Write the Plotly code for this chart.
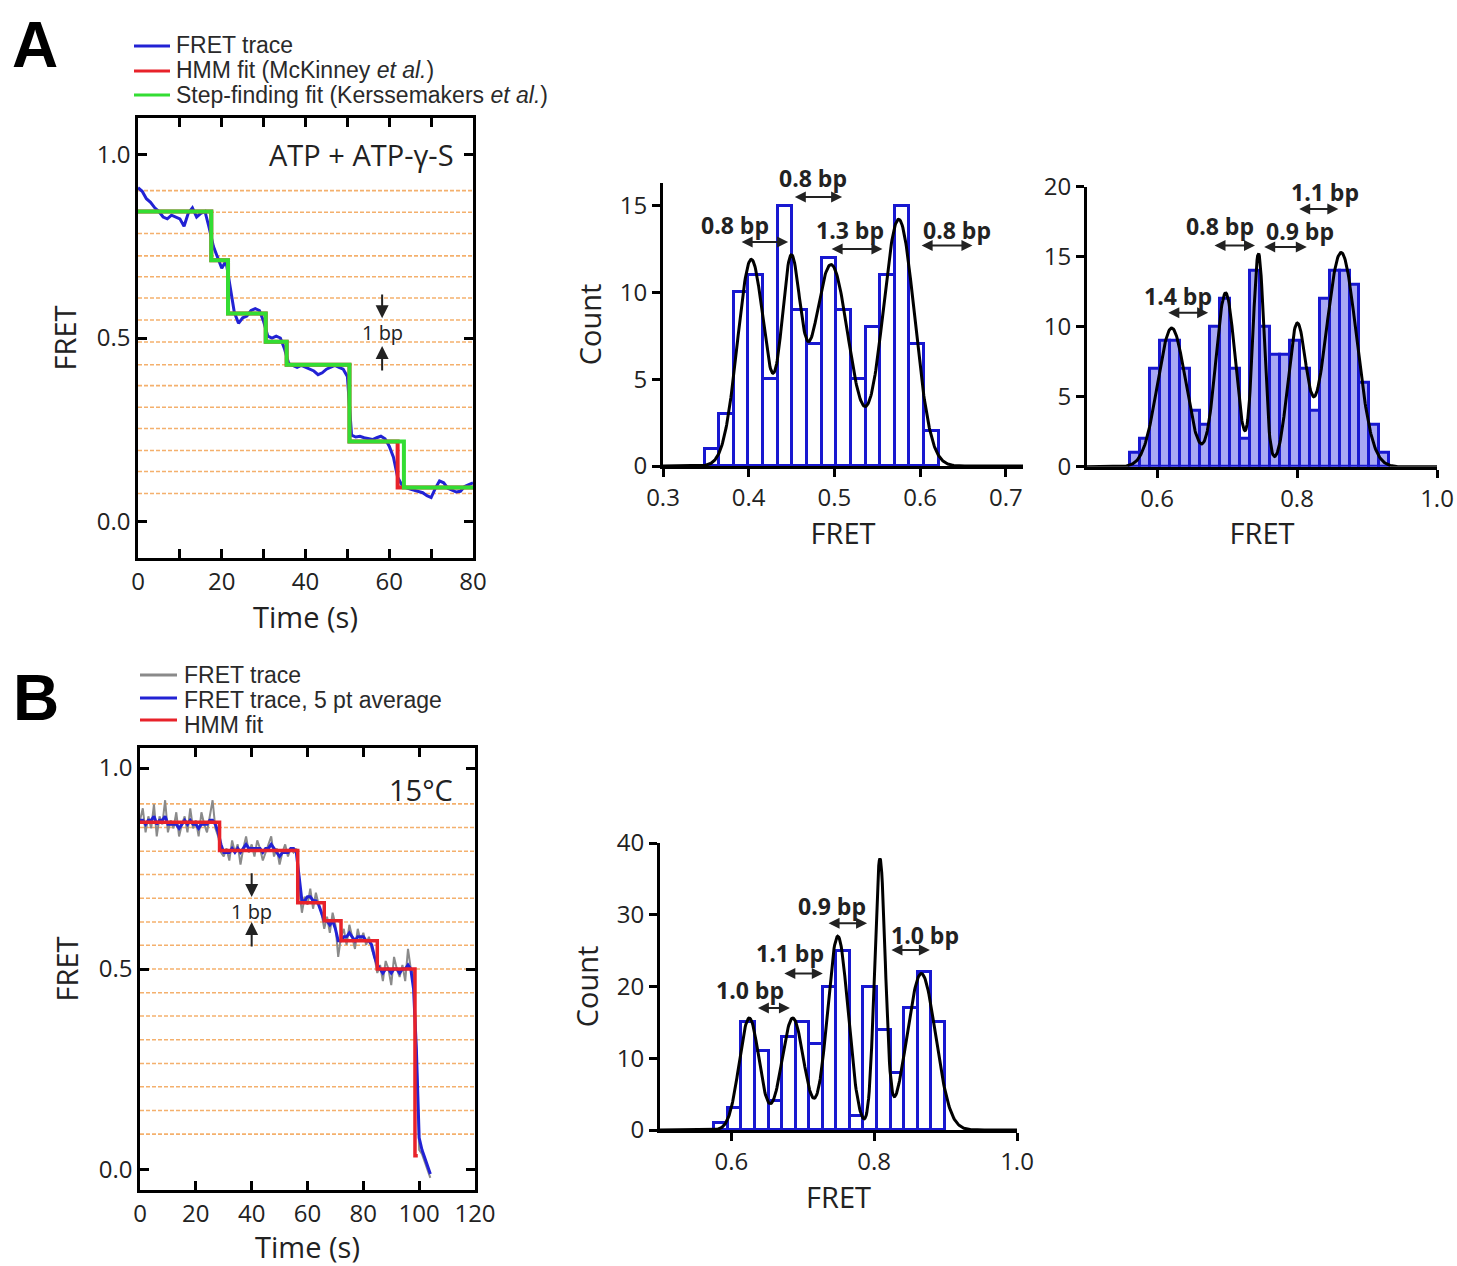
import numpy as np
import plotly.graph_objects as go

W, H = 1457, 1266
def px(x): return x / W
def py(y): return 1 - y / H

# ---------------- DATA ----------------
# Panel A trace (1 s sampling)
tA = list(range(0, 81))
fretA = [0.91, 0.90, 0.88, 0.87, 0.855, 0.845, 0.83, 0.825, 0.835, 0.83,
         0.825, 0.805, 0.84, 0.855, 0.83, 0.84, 0.845, 0.80, 0.75, 0.72,
         0.69, 0.71, 0.64, 0.57, 0.54, 0.555, 0.56, 0.575, 0.58, 0.575,
         0.545, 0.505, 0.50, 0.505, 0.50, 0.47, 0.43, 0.425, 0.42, 0.425,
         0.42, 0.415, 0.41, 0.40, 0.405, 0.415, 0.42, 0.425, 0.42, 0.415,
         0.395, 0.235, 0.23, 0.232, 0.228, 0.226, 0.223, 0.228, 0.232, 0.225,
         0.205, 0.175, 0.12, 0.10, 0.092, 0.088, 0.085, 0.08, 0.078, 0.07,
         0.065, 0.09, 0.11, 0.105, 0.09, 0.085, 0.08, 0.082, 0.095, 0.10, 0.105]
hmmA_t = [0, 17.5, 21.5, 30.5, 35.5, 50.5, 62, 80]
hmmA_lv = [0.845, 0.712, 0.567, 0.49, 0.427, 0.218, 0.092, 0.092]
stepA_t = [0, 17.5, 21.5, 30.5, 35.5, 50.5, 63.5, 80]
stepA_lv = [0.845, 0.712, 0.567, 0.49, 0.427, 0.218, 0.092, 0.092]
guideA = [0.902, 0.843, 0.785, 0.724, 0.667, 0.609, 0.549, 0.489, 0.427,
          0.37, 0.311, 0.253, 0.193, 0.136, 0.076]

# Panel A histogram 1
hA1_start, hA1_w = 0.3485, 0.01707
hA1_counts = [1, 3, 10, 11, 5, 15, 9, 7, 12, 9, 5, 8, 11, 15, 7, 2]
gA1_mu = [0.403, 0.449, 0.496, 0.575]
gA1_amp = [11.9, 11.0, 11.6, 14.2]
gA1_sig = [0.016, 0.011, 0.021, 0.0185]

# Panel A histogram 2
hA2_start, hA2_w = 0.5615, 0.01425
hA2_counts = [1, 2, 7, 9, 9, 7, 4, 3, 10, 12, 7, 2, 14, 10, 8, 8, 9, 7, 4,
              12, 14, 14, 13, 6, 3, 1]
gA2_mu = [0.621, 0.698, 0.745, 0.800, 0.863]
gA2_amp = [9.9, 12.4, 15.2, 10.0, 15.3]
gA2_sig = [0.020, 0.014, 0.008, 0.013, 0.022]

# Panel B trace
tB = list(range(0, 105))
rawB = [0.87, 0.90, 0.84, 0.88, 0.85, 0.91, 0.83, 0.88, 0.86, 0.92,
        0.84, 0.87, 0.85, 0.89, 0.83, 0.86, 0.88, 0.84, 0.90, 0.85,
        0.87, 0.83, 0.89, 0.86, 0.84, 0.88, 0.92, 0.85, 0.83, 0.79,
        0.78, 0.80, 0.77, 0.82, 0.79, 0.81, 0.76, 0.80, 0.83, 0.79,
        0.81, 0.78, 0.82, 0.80, 0.77, 0.79, 0.81, 0.83, 0.78, 0.80,
        0.76, 0.79, 0.81, 0.78, 0.80, 0.79, 0.80, 0.70, 0.64, 0.68,
        0.66, 0.70, 0.65, 0.69, 0.66, 0.64, 0.60, 0.63, 0.59, 0.64,
        0.61, 0.53, 0.58, 0.60, 0.56, 0.61, 0.58, 0.55, 0.60, 0.57,
        0.59, 0.56, 0.58, 0.55, 0.53, 0.49, 0.51, 0.47, 0.52, 0.50,
        0.46, 0.53, 0.50, 0.48, 0.51, 0.47, 0.55, 0.50, 0.49, 0.30,
        0.05, 0.04, 0.02, 0.00, -0.02]
avgB = [0.87, 0.87, 0.86, 0.87, 0.87, 0.88, 0.86, 0.87, 0.87, 0.88,
        0.86, 0.86, 0.86, 0.86, 0.85, 0.86, 0.87, 0.86, 0.87, 0.86,
        0.86, 0.85, 0.86, 0.86, 0.86, 0.87, 0.87, 0.86, 0.84, 0.81,
        0.79, 0.79, 0.79, 0.80, 0.79, 0.80, 0.79, 0.80, 0.81, 0.80,
        0.80, 0.80, 0.80, 0.80, 0.79, 0.80, 0.80, 0.81, 0.80, 0.79,
        0.78, 0.79, 0.79, 0.79, 0.80, 0.80, 0.79, 0.73, 0.67, 0.67,
        0.68, 0.68, 0.67, 0.67, 0.66, 0.64, 0.62, 0.62, 0.61, 0.62,
        0.60, 0.57, 0.57, 0.58, 0.58, 0.59, 0.58, 0.57, 0.58, 0.58,
        0.58, 0.57, 0.57, 0.56, 0.53, 0.51, 0.50, 0.49, 0.50, 0.50,
        0.49, 0.50, 0.50, 0.49, 0.50, 0.50, 0.51, 0.50, 0.45, 0.30,
        0.08, 0.05, 0.03, 0.01, -0.01]
hmmB_t = [0, 28.5, 56.5, 66, 72, 85, 98.5, 99.5]
hmmB_lv = [0.865, 0.795, 0.665, 0.62, 0.57, 0.5, 0.035, 0.035]
guideB = [0.089, 0.148, 0.207, 0.265, 0.324, 0.383, 0.441, 0.5, 0.559,
          0.617, 0.676, 0.735, 0.793, 0.852, 0.911]

# Panel B histogram
hB_start, hB_w = 0.576, 0.019
hB_counts = [1, 3, 15, 11, 4, 13, 15, 12, 20, 25, 2, 20, 14, 8, 17, 22, 15]
gB_mu = [0.625, 0.686, 0.749, 0.808, 0.866]
gB_amp = [15.6, 15.6, 27.0, 37.5, 21.8]
gB_sig = [0.014, 0.0155, 0.0145, 0.0075, 0.020]

# bp annotations: (label, text_x, text_y, arrow_x0, arrow_x1, arrow_y)
bpA1 = [("0.8 bp", 0.384, 13.9, 0.390, 0.446, 12.9),
        ("0.8 bp", 0.475, 16.6, 0.452, 0.509, 15.5),
        ("1.3 bp", 0.518, 13.6, 0.495, 0.556, 12.5),
        ("0.8 bp", 0.643, 13.6, 0.600, 0.661, 12.7)]
bpA2 = [("1.4 bp", 0.630, 12.2, 0.614, 0.673, 11.0),
        ("0.8 bp", 0.690, 17.2, 0.680, 0.740, 15.8),
        ("0.9 bp", 0.804, 16.8, 0.751, 0.814, 15.7),
        ("1.1 bp", 0.840, 19.6, 0.801, 0.859, 18.4)]
bpB = [("1.0 bp", 0.626, 19.5, 0.635, 0.682, 17.0),
       ("1.1 bp", 0.682, 24.7, 0.672, 0.728, 21.8),
       ("0.9 bp", 0.741, 31.2, 0.734, 0.790, 28.8),
       ("1.0 bp", 0.871, 27.2, 0.822, 0.878, 25.1)]

# legend entries
legA_names = ["FRET trace", "HMM fit (McKinney <i>et al.</i>)",
              "Step-finding fit (Kerssemakers <i>et al.</i>)"]
legB_names = ["FRET trace", "FRET trace, 5 pt average", "HMM fit"]

# ---------------- STYLE ----------------
FONT = "Open Sans"
BLUE = "#2222d4"
RED = "#e8222a"
GREEN = "#33dd33"
GRAY = "#8a8a8a"
BARBLUE = "#1818d0"
TICKF = dict(family=FONT, size=24, color="#222")
TITF = dict(family=FONT, size=29, color="#222")

fig = go.Figure()

# ---- Panel A trace
fig.add_trace(go.Scatter(x=tA, y=fretA, mode="lines", name=legA_names[0],
                         line=dict(color=BLUE, width=3), xaxis="x", yaxis="y"))
fig.add_trace(go.Scatter(x=hmmA_t, y=hmmA_lv, mode="lines", line_shape="hv",
                         name=legA_names[1], line=dict(color=RED, width=4),
                         xaxis="x", yaxis="y"))
fig.add_trace(go.Scatter(x=stepA_t, y=stepA_lv, mode="lines", line_shape="hv",
                         name=legA_names[2], line=dict(color=GREEN, width=4),
                         xaxis="x", yaxis="y"))

# ---- Panel B trace
fig.add_trace(go.Scatter(x=tB, y=rawB, mode="lines", name=legB_names[0],
                         line=dict(color=GRAY, width=2), xaxis="x2", yaxis="y2"))
fig.add_trace(go.Scatter(x=tB, y=avgB, mode="lines", name=legB_names[1],
                         line=dict(color=BLUE, width=3), xaxis="x2", yaxis="y2"))
fig.add_trace(go.Scatter(x=hmmB_t, y=hmmB_lv, mode="lines", line_shape="hv",
                         name=legB_names[2], line=dict(color=RED, width=3.5),
                         xaxis="x2", yaxis="y2"))


def gauss_sum(xs, mu, amp, sig):
    out = np.zeros_like(xs)
    for m, a, s in zip(mu, amp, sig):
        out += a * np.exp(-0.5 * ((xs - m) / s) ** 2)
    return out


def add_hist(start, w, counts, mu, amp, sig, xr, xa, ya, fill):
    centers = [start + w * (i + 0.5) for i in range(len(counts))]
    fig.add_trace(go.Bar(x=centers, y=counts, width=w, xaxis=xa, yaxis=ya,
                         marker=dict(color=fill, line=dict(color=BARBLUE, width=3)),
                         showlegend=False))
    xs = np.linspace(xr[0], xr[1], 600)
    fig.add_trace(go.Scatter(x=xs, y=gauss_sum(xs, mu, amp, sig), mode="lines",
                             line=dict(color="black", width=3), xaxis=xa, yaxis=ya,
                             showlegend=False))


add_hist(hA1_start, hA1_w, hA1_counts, gA1_mu, gA1_amp, gA1_sig, (0.3, 0.72), "x3", "y3", "white")
add_hist(hA2_start, hA2_w, hA2_counts, gA2_mu, gA2_amp, gA2_sig, (0.5, 1.0), "x4", "y4", "#a8a8f4")
add_hist(hB_start, hB_w, hB_counts, gB_mu, gB_amp, gB_sig, (0.5, 1.0), "x5", "y5", "white")

fig.update_traces(showlegend=False)

# ---------------- AXES ----------------
def trace_x(dom, rng, dtick, minor, title):
    d = dict(domain=dom, range=rng, showline=True, linecolor="black", linewidth=2.5,
             mirror="ticks", ticks="inside", ticklen=9, tickwidth=2.5, tickcolor="black",
             dtick=dtick, tick0=0, showgrid=False, zeroline=False, tickfont=TICKF,
             automargin=False, title=dict(text=title, font=TITF, standoff=6))
    if minor:
        d["minor"] = dict(dtick=minor, ticks="inside", ticklen=9, tickwidth=2.5,
                          tickcolor="black", showgrid=False)
    return d


def trace_y(dom, rng, title):
    return dict(domain=dom, range=rng, showline=True, linecolor="black", linewidth=2.5,
                mirror="ticks", ticks="inside", ticklen=9, tickwidth=2.5, tickcolor="black",
                tickvals=[0, 0.5, 1.0], tickformat=".1f", showgrid=False, zeroline=False,
                tickfont=TICKF, automargin=False, title=dict(text=title, font=TITF, standoff=12))


def hist_x(dom, rng, tickvals, title):
    return dict(domain=dom, range=rng, showline=True, linecolor="black", linewidth=3,
                ticks="outside", ticklen=8, tickwidth=2.5, tickcolor="black",
                tickvals=tickvals, tickformat=".1f", showgrid=False, zeroline=False,
                tickfont=TICKF, automargin=False, title=dict(text=title, font=TITF, standoff=4))


def hist_y(dom, rng, tickvals, title):
    return dict(domain=dom, range=rng, showline=True, linecolor="black", linewidth=3,
                ticks="outside", ticklen=8, tickwidth=2.5, tickcolor="black",
                tickvals=tickvals, showgrid=False, zeroline=False,
                tickfont=TICKF, automargin=False, title=dict(text=title, font=TITF, standoff=10))


layout = dict(
    width=W, height=H, margin=dict(l=0, r=0, t=0, b=0, pad=0, autoexpand=False),
    paper_bgcolor="white", plot_bgcolor="rgba(0,0,0,0)",
    font=dict(family=FONT, color="#222"),
    bargap=0, showlegend=False,
    xaxis=dict(trace_x([px(138), px(473)], [0, 80], 20, 10, "Time (s)"), anchor="y"),
    yaxis=dict(trace_y([py(558), py(118)], [-0.1, 1.1], "FRET"), anchor="x"),
    xaxis2=dict(trace_x([px(140), px(475)], [0, 120], 20, None, "Time (s)"), anchor="y2"),
    yaxis2=dict(trace_y([py(1190), py(748)], [-0.05, 1.05], "FRET"), anchor="x2"),
    xaxis3=dict(hist_x([px(663), px(1023)], [0.3, 0.72], [0.3, 0.4, 0.5, 0.6, 0.7], "FRET"), anchor="y3"),
    yaxis3=dict(hist_y([py(466), py(183)], [0, 16.3], [0, 5, 10, 15], "Count"), anchor="x3"),
    xaxis4=dict(hist_x([px(1087), px(1437)], [0.5, 1.0], [0.6, 0.8, 1.0], "FRET"), anchor="y4"),
    yaxis4=dict(hist_y([py(466.7), py(186.7)], [0, 20], [0, 5, 10, 15, 20], ""), anchor="x4"),
    xaxis5=dict(hist_x([px(660), px(1017)], [0.5, 1.0], [0.6, 0.8, 1.0], "FRET"), anchor="y5"),
    yaxis5=dict(hist_y([py(1130), py(843)], [0, 40], [0, 10, 20, 30, 40], "Count"), anchor="x5"),
)
fig.update_layout(**layout)

# guide lines (1 bp levels)
shapes = []
for lv in guideA:
    shapes.append(dict(type="line", xref="x domain", yref="y", x0=0, x1=1, y0=lv, y1=lv,
                       line=dict(color="rgba(240,150,60,0.75)", width=1.6, dash="4px,2px"),
                       layer="below"))
for lv in guideB:
    shapes.append(dict(type="line", xref="x2 domain", yref="y2", x0=0, x1=1, y0=lv, y1=lv,
                       line=dict(color="rgba(240,150,60,0.75)", width=1.6, dash="4px,2px"),
                       layer="below"))

ann = []
# legend keys (drawn manually for exact placement)
LEGF = dict(family="Liberation Sans", size=23, color="#2a2a2a")
for names, cols, ys_line, ys_text, x0, x1, xt in [
        (legA_names, [BLUE, RED, GREEN], [46, 71, 95], [45, 70, 95], 134, 170, 174),
        (legB_names, [GRAY, BLUE, RED], [675, 698, 720], [675, 700, 725], 140, 177, 182)]:
    for nm, col, yl, yt in zip(names, cols, ys_line, ys_text):
        shapes.append(dict(type="line", xref="paper", yref="paper",
                           x0=px(x0), x1=px(x1), y0=py(yl), y1=py(yl),
                           line=dict(color=col, width=3)))
        ann.append(dict(text=nm, x=px(xt), y=py(yt), xref="paper", yref="paper",
                        xanchor="left", yanchor="middle", showarrow=False, font=LEGF))
fig.update_layout(shapes=shapes)

# panel letters
ann.append(dict(text="<b>A</b>", x=px(35), y=py(45), xref="paper", yref="paper",
                xanchor="center", yanchor="middle",
                showarrow=False, font=dict(family="Liberation Sans", size=64, color="black")))
ann.append(dict(text="<b>B</b>", x=px(36), y=py(698), xref="paper", yref="paper",
                xanchor="center", yanchor="middle",
                showarrow=False, font=dict(family="Liberation Sans", size=64, color="black")))
# condition labels
ann.append(dict(text="ATP + ATP-γ-S", x=76, y=1.0, xref="x", yref="y", xanchor="right",
                yanchor="middle", showarrow=False, font=dict(family=FONT, size=29, color="#222")))
ann.append(dict(text="15°C", x=113, y=0.946, xref="x2", yref="y2", xanchor="right",
                yanchor="middle", showarrow=False, font=dict(family=FONT, size=29, color="#222")))
# 1 bp markers
for xr_, yr_, tx, ty, y_top0, y_top1, y_bot0, y_bot1 in [
        ("x", "y", 58.3, 0.514, 0.623, 0.554, 0.407, 0.478),
        ("x2", "y2", 40.0, 0.642, 0.742, 0.679, 0.552, 0.617)]:
    ann.append(dict(text="1 bp", x=tx, y=ty, xref=xr_, yref=yr_, showarrow=False,
                    xanchor="center", yanchor="middle",
                    font=dict(family=FONT, size=20, color="#222")))
    ann.append(dict(text="", x=tx, y=y_top1, ax=tx, ay=y_top0, xref=xr_, yref=yr_,
                    axref=xr_, ayref=yr_, showarrow=True, arrowhead=2, arrowsize=1.3,
                    arrowwidth=2, arrowcolor="#222"))
    ann.append(dict(text="", x=tx, y=y_bot1, ax=tx, ay=y_bot0, xref=xr_, yref=yr_,
                    axref=xr_, ayref=yr_, showarrow=True, arrowhead=2, arrowsize=1.3,
                    arrowwidth=2, arrowcolor="#222"))

for items, xr_, yr_, ytop in [(bpA1, "x3", "y3", 16.3), (bpA2, "x4", "y4", 20),
                              (bpB, "x5", "y5", 40)]:
    for lab, tx, ty, a0, a1, ay in items:
        ann.append(dict(text="<b>" + lab + "</b>", x=tx, y=ty / ytop, xref=xr_,
                        yref=yr_ + " domain", xanchor="center", yanchor="middle",
                        showarrow=False, font=dict(family=FONT, size=23, color="#222")))
        ann.append(dict(text="", x=a1, y=ay, ax=a0, ay=ay, xref=xr_, yref=yr_,
                        axref=xr_, ayref=yr_, showarrow=True, arrowhead=2,
                        arrowside="end+start", arrowsize=1.1, arrowwidth=2,
                        arrowcolor="#222"))
fig.update_layout(annotations=ann)

fig.write_html("out.html")
